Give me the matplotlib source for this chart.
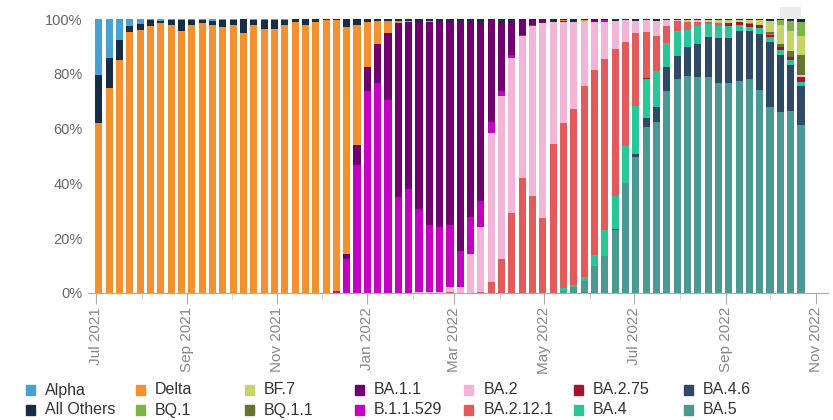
import matplotlib
matplotlib.use("Agg")
import matplotlib.pyplot as plt
import matplotlib.dates as mdates
from matplotlib.patches import Rectangle
import numpy as np
import pandas as pd

plt.rcParams["font.family"] = ["Liberation Sans", "DejaVu Sans"]

# weekly share (%) of each lineage, 69 weeks from early Jul 2021
weeks = pd.date_range("2021-07-03", periods=69, freq="7D")

alpha = [20.5, 14.3, 7.5, 2.5, 1.9, 0.5, 0.6, 0.2, 0.2, 0.5, 0.5, 0.7, 0.2, 0.2,
         0.1, 0.2, 0.2, 0.2, 0.2] + [0] * 50
all_others = [17.4, 11.0, 7.6, 2.4, 2.1, 1.9, 0.8, 2.0, 4.3, 1.7, 1.0, 1.5, 2.8, 2.0,
              4.9, 2.0, 3.6, 3.6, 2.0, 1.0, 2.0, 1.0, 0.5,
              0.3, 3.0, 2.0, 1.0, 0.7, 0.7, 0.7, 0.6, 1.0, 0.6, 0.7, 0.7, 0.6, 0.7,
              1.5, 0.4, 1.5, 0.8, 0.3, 0.2, 0.4, 0.7,
              0.3, 1.0, 0.2, 0.3, 0.3, 0.7, 0.3, 0.7, 0.2, 0.7, 0.2, 0.3, 0.3, 0.3,
              0.3, 0.3, 0.3, 0.3, 0.3, 0.3, 0.7, 0.3, 0.7, 1.0]
delta = [62.1, 74.7, 84.9, 95.1, 96.0, 97.6, 98.6, 97.8, 95.5, 97.8, 98.5, 97.8, 97.0,
         97.8, 95.0, 97.8, 96.2, 96.2, 97.8, 99.0, 98.0, 99.0, 99.5,
         98.9, 82.8, 44.0, 16.5, 8.3, 4.3, 0.7, 0.5, 0.0, 0.4] + [0] * 12 + \
        [0.5, 0.0, 0.6] + [0] * 21
bq1 = [0] * 66 + [2.0, 3.7, 5.1]
bf7 = [0] * 57 + [0.7, 0.0, 0.7, 1.2, 1.0, 0.7, 1.0, 2.0, 3.9, 6.8, 7.1, 7.1]
bq11 = [0] * 65 + [0.7, 1.2, 2.2, 7.3]
ba11 = [0] * 24 + [1.8, 7.3, 8.9, 14.3, 24.6, 63.4, 60.9, 68.2, 74.0, 75.2, 74.3, 84.0,
                   71.4, 64.9, 37.0, 24.7, 12.2, 5.4, 2.0, 1.2, 0.3, 0.4, 0.0, 0.0,
                   0.7] + [0] * 20
b11529 = [0] * 23 + [0.8, 12.4, 46.7, 73.6, 76.7, 70.4, 35.2, 38.0, 30.6, 24.8, 23.8,
                     22.9, 13.1, 13.8, 9.5, 4.2, 1.7, 1.2, 0.5, 0.5, 0.0, 0.0, 0.0,
                     0.0, 0.0, 0.0, 0.7] + [0] * 19
ba2 = [0] * 31 + [0.2, 0.2, 0.3, 1.8, 2.2, 14.0, 23.6, 54.5, 59.4, 56.5, 51.8, 62.0,
                  71.0, 44.5, 36.8, 31.8, 23.5, 17.5, 13.4, 10.3, 8.1, 4.5, 4.4, 5.4,
                  2.2, 0.5, 0.0, 0.7] + [0] * 9 + [0.7]
ba2121 = [0] * 34 + [0.3, 0.1, 0.1, 0.4, 3.9, 12.5, 29.3, 42.0, 35.3, 27.4, 54.5, 60.3,
                     64.0, 70.0, 67.8, 62.6, 53.7, 38.1, 26.5, 16.9, 12.7, 6.4, 3.7,
                     3.0, 1.7, 0.7, 1.2, 0.0, 0.0, 0.5, 0.0, 0.5] + [0] * 3
ba275 = [0] * 53 + [0.4] + [0] * 7 + [1.2, 1.0, 1.0, 1.0, 0.7, 1.0, 1.2, 1.7]
ba4 = [0] * 45 + [1.0, 0.8, 1.3, 3.7, 9.5, 11.9, 13.2, 17.6, 14.1, 13.3, 8.8, 9.0, 6.4,
                  6.6, 4.9, 4.2, 4.4, 2.2, 1.7, 2.0, 2.0, 1.7, 1.7, 1.7]
ba46 = [0] * 50 + [0.5, 0.1, 1.0, 3.4, 5.4, 8.8, 8.3, 10.5, 12.0, 14.7, 16.4, 16.4,
                   18.3, 17.4, 20.8, 23.7, 21.0, 16.9, 14.2]
ba5 = [0] * 45 + [0.7, 2.2, 4.4, 10.0, 13.5, 22.9, 40.2, 49.7, 60.6, 62.5, 73.6, 78.5,
                  79.4, 79.0, 79.0, 77.0, 77.0, 77.8, 78.4, 74.2, 67.8, 66.3, 66.5, 61.2]

# bottom-to-top stacking order
stack = [
    ("BA.5", ba5, "#4a9a93"),
    ("BA.4.6", ba46, "#2f4966"),
    ("BA.4", ba4, "#27c896"),
    ("BA.2.75", ba275, "#a5152f"),
    ("BA.2.12.1", ba2121, "#e25a5a"),
    ("BA.2", ba2, "#f2b5d8"),
    ("B.1.1.529", b11529, "#c500c5"),
    ("BA.1.1", ba11, "#70006d"),
    ("BQ.1.1", bq11, "#69722f"),
    ("BF.7", bf7, "#c5d466"),
    ("BQ.1", bq1, "#7cb547"),
    ("Delta", delta, "#f39130"),
    ("All Others", all_others, "#172d45"),
    ("Alpha", alpha, "#47a1d1"),
]
legend_order = ["Alpha", "All Others", "Delta", "BQ.1", "BF.7", "BQ.1.1", "BA.1.1",
                "B.1.1.529", "BA.2", "BA.2.12.1", "BA.2.75", "BA.4", "BA.4.6", "BA.5"]

vals = np.array([s[1] for s in stack], dtype=float)
vals = vals / vals.sum(axis=0) * 100

W, H = 833, 420
fig = plt.figure(figsize=(W / 100, H / 100), dpi=100)
ax = fig.add_axes([88 / W, 1 - 293 / H, (828 - 88) / W, (293 - 7) / H])

top = 104.4
# hover highlight above second-to-last week
ax.bar(weeks[67], top - 100, bottom=100, width=14, color="#ececec", zorder=0)

bottom = np.zeros(len(weeks))
for (name, _, color), v in zip(stack, vals):
    ax.bar(weeks, v, bottom=bottom, width=4.8, color=color, linewidth=0, zorder=2)
    bottom += v

start = pd.Timestamp("2021-07-01")
ax.set_xlim(start - pd.Timedelta(days=5.4), start + pd.Timedelta(days=496.3))
ax.set_ylim(0, top)

ax.xaxis.set_major_locator(mdates.MonthLocator(bymonth=[1, 3, 5, 7, 9, 11]))
ax.xaxis.set_minor_locator(mdates.MonthLocator(bymonth=[2, 4, 6, 8, 10, 12]))
ax.xaxis.set_major_formatter(mdates.DateFormatter("%b %Y"))
ax.tick_params(axis="x", which="major", length=8, color="#aaaaaa", labelsize=11,
               labelcolor="#888888", labelrotation=90, pad=2)
ax.tick_params(axis="x", which="minor", length=4, color="#cccccc")
ax.set_yticks([0, 20, 40, 60, 80, 100])
ax.set_yticklabels(["0%", "20%", "40%", "60%", "80%", "100%"])
ax.tick_params(axis="y", length=0, labelsize=10.5, labelcolor="#666666", pad=4)

for s in ["top", "right", "left"]:
    ax.spines[s].set_visible(False)
ax.spines["bottom"].set_color("#aaaaaa")

colors = {s[0]: s[2] for s in stack}
for k, name in enumerate(legend_order):
    col, row = k // 2, k % 2
    x = 26 + col * 109.6
    y = 390 + row * 20
    fig.patches.append(Rectangle((x / W, 1 - (y + 5) / H), 9 / W, 10 / H,
                                 transform=fig.transFigure, color=colors[name]))
    fig.text((x + 19) / W, 1 - y / H, name, fontsize=11.5, color="#333333",
             va="center", ha="left")

fig.savefig("out.png", dpi=100)
